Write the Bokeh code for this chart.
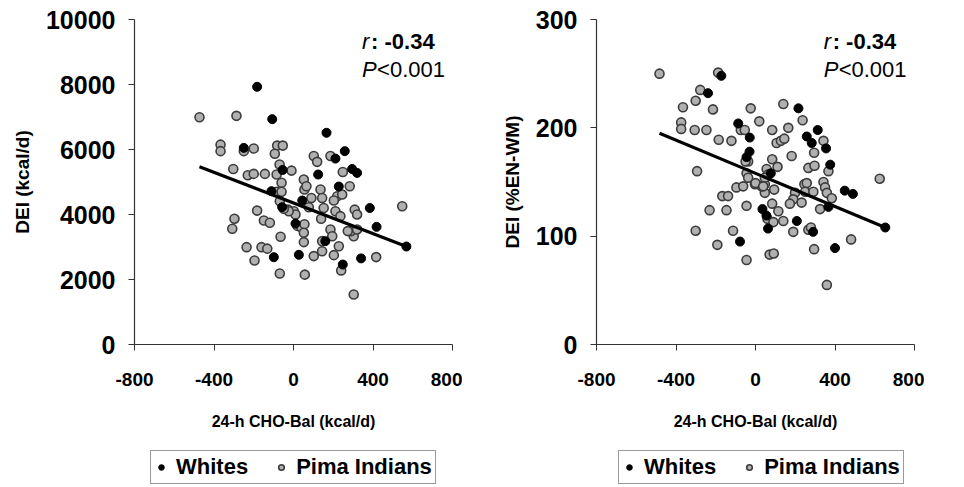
from bokeh.plotting import figure
from bokeh.models import Range1d, Legend, LegendItem, FixedTicker, Label
from bokeh.layouts import row, column
from bokeh.embed import file_html
from bokeh.resources import INLINE

# ---------------- data ----------------
x_ticks = [-800, -400, 0, 400, 800]
x_tick_labels = ["-800", "-400", "0", "400", "800"]

left_y_ticks = [0, 2000, 4000, 6000, 8000, 10000]
left_y_tick_labels = ["0", "2000", "4000", "6000", "8000", "10000"]
right_y_ticks = [0, 100, 200, 300]
right_y_tick_labels = ["0", "100", "200", "300"]

group_labels = ["Whites", "Pima Indians"]

# Left panel: DEI (kcal/d)
left_white_x = [-183, -107, -250, -111, 44, -57, -55, -99, 27, 166, 258, 211, 295, 320,
                124, 228, 384, 418, 248, 340, 568, 10, 160]
left_white_y = [7930, 6933, 6050, 4717, 4430, 4225, 5370, 2686, 2760, 6514, 5950, 5720, 5400, 5280,
                5230, 4860, 4200, 3620, 2460, 2650, 3015, 3720, 3180]

left_pima_x = [-473, -287, -367, -367, -250, -200, -82, -54, -94, -70, -10, -303, -230, -200,
               -144, -85, -60, 52, 55, -85, -60, -69, -27, 2, 10, -183, -297, -308, -149, -119,
               20, 40, 55, -65, 52, -236, -161, -132, -196, -69, 57, 102, 119, 186, 248, 65, 283,
               136, 144, 220, 245, 203, 211, 90, 152, 547, 236, 308, 320, 303, 290, 273, 320, 139,
               186, 195, 52, 144, 102, 144, 203, 228, 240, 416, 303, 77, -24, -49]
left_pima_y = [6994, 7036, 6150, 5950, 5950, 6030, 6120, 6120, 5870, 5540, 5350, 5400, 5210, 5250,
               5250, 5230, 4975, 5077, 4770, 4700, 4700, 4410, 4150, 4100, 4000, 4120, 3870, 3560, 3815, 3745,
               3650, 3600, 3700, 3315, 3150, 2995, 2995, 2950, 2585, 2185, 2150, 5800, 5620, 5800, 5310, 4870, 4870,
               4770, 4510, 4560, 4615, 4430, 4100, 4510, 4200, 4255, 3950, 4150, 4000, 3330, 3490, 3490, 3540, 3870,
               3540, 3330, 3440, 3180, 2720, 2870, 2750, 3025, 2280, 2690, 1540, 4225, 4100, 4175]

left_fit_x = [-473, 568]
left_fit_y = [5470, 3015]

# Right panel: DEI (%EN-WM)
right_white_x = [-172, -239, -87, -29, -30, -45, 35, 55, 63, -78, 216, 313, 258, 283, 355, 376,
                 77, 449, 490, 367, 208, 290, 400, 653]
right_white_y = [248, 232, 204, 191, 178, 173, 125, 119, 107, 95, 218, 198, 192, 186, 181, 166,
                 158, 142, 139, 127, 114, 104, 89, 108]

right_pima_x = [-483, -188, -278, -301, -365, -214, -24, 19, -374, -374, -306, -247, -74, -54,
                -185, -121, -37, -50, -294, -45, -37, 56, 64, 47, 47, 30, -3, -96, -62, -167, -138,
                -45, 60, -231, -146, -301, -113, -192, -45, 71, 140, 237, 84, 165, 106, 128, 145, 342,
                295, 182, 84, 111, 266, 297, 367, 47, 94, 246, 258, 250, 342, 350, 359, 384, 291, 625,
                199, 190, 173, 232, 325, 84, 115, 140, 90, 190, 266, 279, 481, 295, 92, 359, 0, 39]
right_pima_y = [250, 251, 235, 225, 219, 217, 218, 206, 205, 199, 198, 198, 198, 198,
                189, 188, 169, 169, 160, 158, 154, 162, 157, 148, 140, 146, 148, 145, 146, 137, 137,
                128, 116, 124, 124, 105, 105, 92, 78, 83, 222, 207, 198, 200, 186, 188, 190, 188,
                177, 174, 171, 164, 163, 165, 160, 154, 143, 148, 149, 141, 150, 145, 140, 135, 141, 153,
                140, 134, 130, 131, 125, 130, 123, 114, 113, 104, 106, 108, 97, 88, 84, 55, 149, 146]

right_fit_x = [-483, 653]
right_fit_y = [195, 108]

# ---------------- styling ----------------
SANS = "Liberation Sans"
WHITE_STYLE = dict(fill_color="black", line_color="black", line_width=1)
PIMA_STYLE = dict(fill_color="#b0b0b0", line_color="#3c3c3c", line_width=1.6)


def make_plot(wx, wy, px, py, fx, fy, y_end, y_ticks, y_labels, ylabel, ann_x, ann_y1, ann_y2):
    p = figure(width=462, height=444,
               min_border_left=134, min_border_right=10, min_border_top=19, min_border_bottom=100,
               x_range=Range1d(-800, 800), y_range=Range1d(0, y_end),
               output_backend="svg", toolbar_location=None)
    p.outline_line_color = None
    p.xgrid.visible = False
    p.ygrid.visible = False
    p.background_fill_color = "white"
    p.border_fill_color = "white"

    for ax in (p.xaxis[0], p.yaxis[0]):
        ax.axis_line_color = "#333333"
        ax.axis_line_width = 1.2
        ax.major_tick_line_color = "#333333"
        ax.major_tick_in = 0
        ax.major_tick_out = 6
        ax.minor_tick_line_color = None
        ax.major_label_text_font = SANS
        ax.axis_label_text_font = SANS
        ax.major_label_text_font_style = "bold"
        ax.axis_label_text_font_style = "bold"
        ax.major_label_text_color = "black"
        ax.axis_label_text_color = "black"

    xa = p.xaxis[0]
    xa.ticker = FixedTicker(ticks=x_ticks)
    xa.major_label_overrides = {t: l for t, l in zip(x_ticks, x_tick_labels)}
    xa.major_label_text_font_size = "19px"
    xa.major_label_standoff = 22
    xa.axis_label = "24-h CHO-Bal (kcal/d)"
    xa.axis_label_text_font_size = "16px"
    xa.axis_label_standoff = 24

    ya = p.yaxis[0]
    ya.ticker = FixedTicker(ticks=y_ticks)
    ya.major_label_overrides = {t: l for t, l in zip(y_ticks, y_labels)}
    ya.major_label_text_font_size = "25px"
    ya.major_label_standoff = 13
    ya.axis_label = ylabel
    ya.axis_label_text_font_size = "19px"
    ya.axis_label_standoff = 10

    p.scatter(px, py, size=9, **PIMA_STYLE)
    p.scatter(wx, wy, size=9, **WHITE_STYLE)
    p.line(fx, fy, line_color="black", line_width=3.2)

    p.add_layout(Label(x=ann_x, y=ann_y1, text="r", text_font=SANS, text_font_style="italic",
                       text_font_size="22px", text_baseline="middle", text_color="black"))
    p.add_layout(Label(x=ann_x, y=ann_y1, x_offset=9, text=": -0.34", text_font=SANS,
                       text_font_style="bold", text_font_size="22px", text_baseline="middle",
                       text_color="black"))
    p.add_layout(Label(x=ann_x, y=ann_y2, text="P", text_font=SANS, text_font_style="italic",
                       text_font_size="22px", text_baseline="middle", text_color="black"))
    p.add_layout(Label(x=ann_x, y=ann_y2, x_offset=15, text="<0.001", text_font=SANS,
                       text_font_size="22px", text_baseline="middle", text_color="black"))
    return p


def make_legend(wx, wy, px, py, offset_x):
    # legend strip under each panel; its frame is aligned with the panel's frame.
    # The series are drawn here only as legend proxies and stay outside the visible range.
    lf = figure(width=462, height=43, x_range=Range1d(-800, 800), y_range=Range1d(-2, -1),
                x_axis_type=None, y_axis_type=None, min_border=0,
                output_backend="svg", toolbar_location=None)
    lf.outline_line_color = None
    lf.xgrid.visible = False
    lf.ygrid.visible = False
    rw = lf.scatter(wx, wy, size=9, **WHITE_STYLE)
    rp = lf.scatter(px, py, size=9, **PIMA_STYLE)
    leg = Legend(items=[LegendItem(label=group_labels[0], renderers=[rw], index=0),
                        LegendItem(label=group_labels[1], renderers=[rp], index=0)],
                 orientation="horizontal", location=(offset_x, 3),
                 border_line_color="#333333", border_line_width=1.2,
                 label_text_font=SANS, label_text_font_style="bold", label_text_font_size="22px",
                 label_text_color="black",
                 glyph_width=14, glyph_height=14, label_standoff=8, spacing=26,
                 padding=3, margin=0, background_fill_color="white")
    lf.add_layout(leg)
    return lf


p1 = make_plot(left_white_x, left_white_y, left_pima_x, left_pima_y, left_fit_x, left_fit_y,
               10000, left_y_ticks, left_y_tick_labels, "DEI (kcal/d)", 345, 9330, 8460)
p2 = make_plot(right_white_x, right_white_y, right_pima_x, right_pima_y, right_fit_x, right_fit_y,
               300, right_y_ticks, right_y_tick_labels, "DEI (%EN-WM)", 343, 280, 254)

l1 = make_legend(left_white_x, left_white_y, left_pima_x, left_pima_y, 16)
l2 = make_legend(right_white_x, right_white_y, right_pima_x, right_pima_y, 22)

layout = row(column(p1, l1), column(p2, l2))
open("out.html", "w").write(file_html(layout, INLINE))
